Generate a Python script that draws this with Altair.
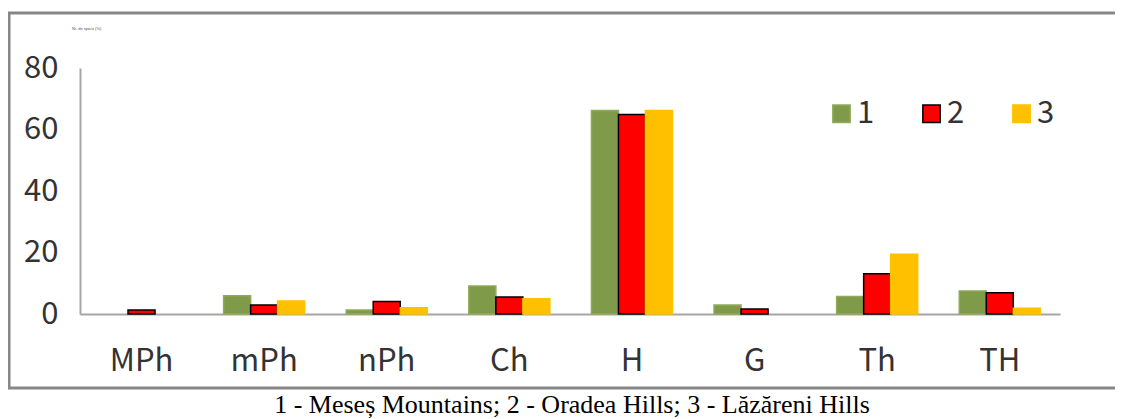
import altair as alt
import pandas as pd

categories = ["MPh", "mPh", "nPh", "Ch", "H", "G", "Th", "TH"]
series = ["1", "2", "3"]
values_1 = [0, 5.9, 1.3, 9.1, 66.2, 2.9, 5.7, 7.5]
values_2 = [1.3, 2.9, 4.1, 5.5, 64.9, 1.6, 13.1, 6.9]
values_3 = [0, 4.2, 2.0, 5.0, 66.2, 0, 19.4, 1.9]
fill_colors = ["#7F9A48", "#FF0000", "#FFC000"]
stroke_colors = ["#8FAA58", "#000000", "#FFC000"]
y_ticks = [0, 20, 40, 60, 80]
caption = "1 - Meseș Mountains; 2 - Oradea Hills; 3 - Lăzăreni Hills"
y_note = "Nr. de specii (%)"

rows = []
for s, vals in zip(series, [values_1, values_2, values_3]):
    for c, v in zip(categories, vals):
        rows.append({"cat": c, "series": s, "value": v})
df = pd.DataFrame(rows)
df = df[df["value"] > 0]

FONT = "Noto Sans CJK SC"
FS = 31

legend_kw = dict(title=None, orient="none", legendX=746, legendY=30,
                 direction="horizontal", symbolType="square",
                 symbolSize=300, labelFontSize=FS, labelFont=FONT,
                 labelColor="#333333", columnPadding=41,
                 labelOffset=0, padding=0, symbolStrokeWidth=1.5)

bars = alt.Chart(df).mark_bar(strokeWidth=1.5).encode(
    x=alt.X("cat:N", sort=categories,
            scale=alt.Scale(domain=categories, paddingInner=0.339, paddingOuter=0.166, align=0.516),
            axis=alt.Axis(title=None, labelAngle=0, ticks=False, labelPadding=32,
                          labelFontSize=FS, labelFont=FONT, labelColor="#333333",
                          domainColor="#A6A6A6", domainWidth=2, grid=False)),
    xOffset=alt.XOffset("series:N", sort=series,
                        scale=alt.Scale(domain=series, paddingInner=0, paddingOuter=0)),
    y=alt.Y("value:Q", scale=alt.Scale(domain=[0, 80], nice=False, zero=True),
            axis=alt.Axis(title=None, values=y_ticks, ticks=False, labelPadding=22,
                          labelFontSize=FS, labelFont=FONT, labelColor="#333333",
                          domainColor="#A6A6A6", domainWidth=2, grid=False)),
    color=alt.Color("series:N", sort=series,
                    scale=alt.Scale(domain=series, range=fill_colors),
                    legend=alt.Legend(**legend_kw)),
    stroke=alt.Stroke("series:N", sort=series,
                      scale=alt.Scale(domain=series, range=stroke_colors),
                      legend=alt.Legend(**legend_kw)),
)

frame = alt.Chart(pd.DataFrame({"k": [0]})).mark_rect(
    filled=False, stroke="#878787", strokeWidth=3
).encode(x=alt.value(-71), x2=alt.value(1037), y=alt.value(-55), y2=alt.value(320))

cap = alt.Chart(pd.DataFrame({"t": [caption]})).mark_text(
    font="Liberation Serif", fontSize=26, color="#000000",
    align="center", baseline="alphabetic"
).encode(text="t:N", x=alt.value(492), y=alt.value(345))

note = alt.Chart(pd.DataFrame({"t": [y_note]})).mark_text(
    font="Liberation Sans", fontSize=4, color="#555555", align="left", baseline="middle"
).encode(text="t:N", x=alt.value(-8), y=alt.value(-39))

chart = alt.layer(frame, bars, cap, note).properties(
    width=980, height=246,
    autosize=alt.AutoSizeParams(type="none"),
    padding={"left": 72, "top": 60, "right": 55, "bottom": 105},
).configure(background="white").configure_view(strokeWidth=0)

chart.save("out.html", embed_options={"renderer": "svg", "actions": False})
